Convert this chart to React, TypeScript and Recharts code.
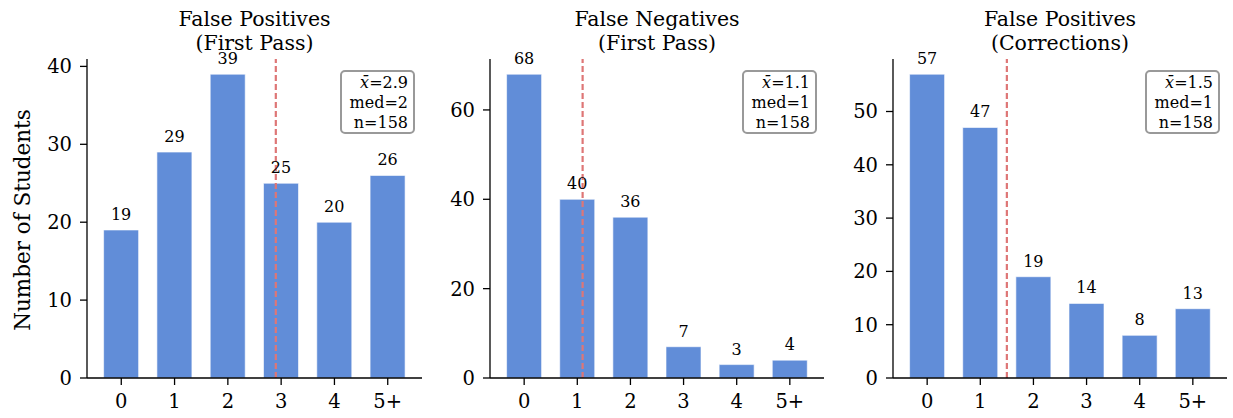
import React from 'react';
import { BarChart, Bar, XAxis, YAxis, ReferenceLine, LabelList } from 'recharts';

const categories = ['0', '1', '2', '3', '4', '5+'];
const fpFirstPass = [19, 29, 39, 25, 20, 26];
const fnFirstPass = [68, 40, 36, 7, 3, 4];
const fpCorrections = [57, 47, 19, 14, 8, 13];

const panels = [
  { title1: 'False Positives', title2: '(First Pass)', values: fpFirstPass, mean: 2.9, meanText: '2.9', med: '2', n: '158', yTicks: [0, 10, 20, 30, 40] },
  { title1: 'False Negatives', title2: '(First Pass)', values: fnFirstPass, mean: 1.1, meanText: '1.1', med: '1', n: '158', yTicks: [0, 20, 40, 60] },
  { title1: 'False Positives', title2: '(Corrections)', values: fpCorrections, mean: 1.5, meanText: '1.5', med: '1', n: '158', yTicks: [0, 10, 20, 30, 40, 50] },
];

const layout = [
  { left: 0, width: 430, yAxisW: 87, right: 8 },
  { left: 430, width: 400, yAxisW: 60, right: 6 },
  { left: 830, width: 403, yAxisW: 63, right: 6 },
];

const FONT = '"DejaVu Serif", serif';
const BAR = '#618DD8';
const MEAN = '#DE7676';
const TOP = 59;
const BOTTOM = 378;

function Panel({ p, l }: any) {
  const data = categories.map((c, i) => ({ x: i, label: c, v: p.values[i] }));
  const maxV = Math.max(...p.values) * 1.05;
  const plotLeft = l.left + l.yAxisW;
  const plotRight = l.left + l.width - l.right;
  const center = (plotLeft + plotRight) / 2;
  return (
    <>
      <div style={{ position: 'absolute', left: l.left, top: 0 }}>
        <BarChart width={l.width} height={418} data={data} margin={{ top: TOP, right: l.right, bottom: 0, left: 0 }}>
          <XAxis
            dataKey="x"
            type="number"
            domain={[-0.643, 5.643]}
            ticks={[0, 1, 2, 3, 4, 5]}
            tickFormatter={(v: number) => categories[v]}
            height={418 - BOTTOM}
            tickSize={7}
            tickMargin={9}
            allowDataOverflow
            axisLine={{ stroke: '#000', strokeWidth: 1.3 }}
            tickLine={{ stroke: '#000', strokeWidth: 1.3 }}
            tick={{ fill: '#000', fontSize: 19.5, fontFamily: FONT }}
          />
          <YAxis
            type="number"
            domain={[0, maxV]}
            ticks={p.yTicks}
            width={l.yAxisW}
            tickSize={7}
            tickMargin={8}
            allowDataOverflow
            axisLine={{ stroke: '#000', strokeWidth: 1.3 }}
            tickLine={{ stroke: '#000', strokeWidth: 1.3 }}
            tick={{ fill: '#000', fontSize: 19.5, fontFamily: FONT }}
          />
          <Bar dataKey="v" fill={BAR} stroke="#ffffff" strokeWidth={0.6} barSize={35} isAnimationActive={false}>
            <LabelList dataKey="v" position="top" offset={10} style={{ fill: '#000', fontSize: 16, fontFamily: FONT }} />
          </Bar>
          <ReferenceLine x={p.mean} stroke={MEAN} strokeWidth={2.2} strokeDasharray="6 3" />
        </BarChart>
      </div>
      <div style={{ position: 'absolute', left: center - 160, width: 320, top: 7, textAlign: 'center', fontFamily: FONT, fontSize: 20.5, lineHeight: '24px', color: '#000' }}>
        <div>{p.title1}</div>
        <div>{p.title2}</div>
      </div>
      <div style={{ position: 'absolute', left: plotRight - 82, top: 70, width: 66, height: 58, border: '2px solid #999', borderRadius: 5, background: '#fff', fontFamily: FONT, fontSize: 16, lineHeight: '20px', textAlign: 'right', padding: '1px 5px 1px 0', color: '#000', whiteSpace: 'nowrap' }}>
        <div><i>x̄</i>={p.meanText}</div>
        <div>med={p.med}</div>
        <div>n={p.n}</div>
      </div>
    </>
  );
}

export default function App() {
  return (
    <div style={{ position: 'absolute', left: 0, top: 0, width: 1233, height: 418, background: '#fff', overflow: 'hidden' }}>
      {panels.map((p, i) => (
        <Panel key={i} p={p} l={layout[i]} />
      ))}
      <div style={{ position: 'absolute', left: 23 - 150, top: 220 - 13, width: 300, height: 26, textAlign: 'center', transform: 'rotate(-90deg)', fontFamily: FONT, fontSize: 21.5, lineHeight: '26px', color: '#000' }}>
        Number of Students
      </div>
    </div>
  );
}
